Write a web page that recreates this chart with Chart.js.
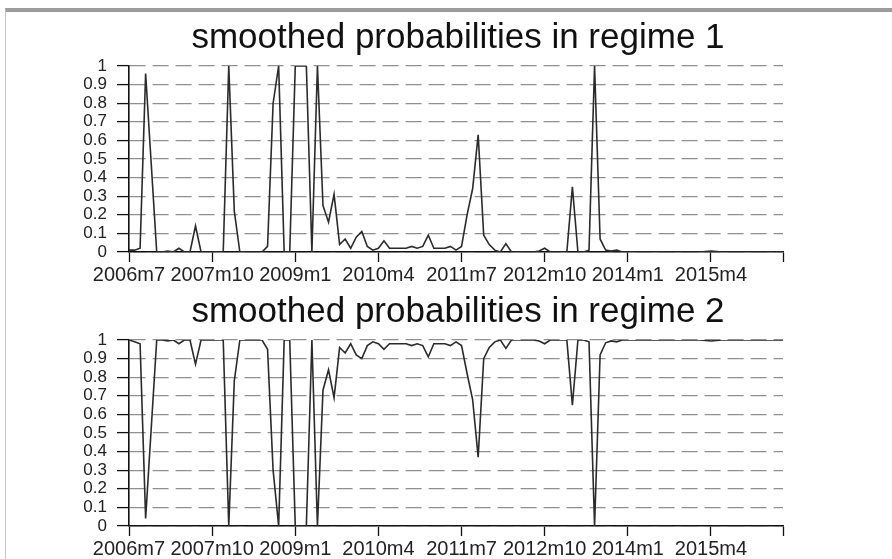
<!DOCTYPE html>
<html><head><meta charset="utf-8">
<script src="https://cdn.jsdelivr.net/npm/chart.js@4"></script>
<style>
html,body{margin:0;padding:0;background:#fff;width:892px;height:559px;overflow:hidden;}
#frame{position:absolute;left:5px;top:8px;width:887px;height:551px;border-top:4px solid #9c9c9c;border-left:1px solid #c4c4c4;box-sizing:border-box;}
canvas{position:absolute;left:0;}
#c1{top:0px;}
#c2{top:274px;}
</style></head><body>
<div id="frame"></div>
<canvas id="c1" width="892" height="290"></canvas>
<canvas id="c2" width="892" height="285"></canvas>
<script>
// ---- data ----
const startYear = 2006, startMonth = 7, nObs = 119;
const categories = [];
for (let k = 0; k < nObs; k++) {
  const m = startMonth - 1 + k;
  categories.push((startYear + Math.floor(m / 12)) + 'm' + (m % 12 + 1));
}
const xTickIndex = [0, 15, 30, 45, 60, 75, 90, 105, 118];
const xTickLabels = ['2006m7', '2007m10', '2009m1', '2010m4', '2011m7', '2012m10', '2014m1', '2015m4', ''];
const yTickValues = [0, 0.1, 0.2, 0.3, 0.4, 0.5, 0.6, 0.7, 0.8, 0.9, 1];
const yTickLabels = ['0', '0.1', '0.2', '0.3', '0.4', '0.5', '0.6', '0.7', '0.8', '0.9', '1'];
const titles = ['smoothed probabilities in regime 1', 'smoothed probabilities in regime 2'];

const regime1 = [
0.01,0.01,0.02,0.96,0.48,0,0,0.005,0,0.02,
0,0,0.14,0,0,0,0,0,1,0.22,
0,0,0,0,0,0.03,0.8,1,0,0,
1,1,1,0,1,0.25,0.16,0.31,0.04,0.07,
0.02,0.08,0.11,0.03,0.01,0.02,0.06,0.02,0.02,0.02,
0.02,0.03,0.02,0.03,0.09,0.02,0.02,0.02,0.03,0.01,
0.03,0.2,0.34,0.63,0.09,0.04,0.01,0,0.045,0,
0,0,0,0,0.005,0.02,0,0,0,0,
0.35,0,0,0.01,1,0.07,0.01,0.005,0.01,0,
0,0,0,0,0,0,0,0,0,0,
0,0,0,0,0.003,0.005,0.003,0,0,0,
0,0,0,0,0,0,0,0,0
];
const regime2 = [
1,0.99,0.98,0.04,0.52,1,1,0.995,1,0.98,
1,1,0.87,1,1,1,1,1,0,0.78,
1,1,1,1,1,0.95,0.3,0,1,1,
0,0,0,1,0,0.73,0.84,0.69,0.96,0.93,
0.98,0.92,0.9,0.97,0.99,0.98,0.95,0.98,0.98,0.98,
0.98,0.97,0.98,0.97,0.91,0.98,0.98,0.98,0.97,0.99,
0.97,0.82,0.68,0.37,0.9,0.96,0.99,1,0.955,1,
1,1,1,1,0.995,0.98,1,1,1,1,
0.65,1,1,0.99,0,0.92,0.985,0.995,0.99,1,
1,1,1,1,1,1,1,1,1,1,
1,1,1,1,0.997,0.995,0.997,1,1,1,
1,1,1,1,1,1,1,1,1
];

// ---- chart ----
const FONT = "'Liberation Sans', Arial, sans-serif";
function makeChart(id, title, values) {
  const canvas = document.getElementById(id);
  const H = canvas.height;
  return new Chart(canvas, {
    type: 'line',
    data: {
      datasets: [{
        label: title,
        data: values.map((v, i) => ({ x: i, y: v })),
        borderColor: '#2b2b2b',
        borderWidth: 1.6,
        pointRadius: 0,
        tension: 0,
        fill: false,
        yAxisID: 'y'
      }]
    },
    options: {
      responsive: false,
      animation: false,
      devicePixelRatio: 1,
      layout: { padding: { left: 24, right: 0, top: 0, bottom: 0 } },
      plugins: {
        legend: { display: false },
        tooltip: { enabled: false },
        title: {
          display: true,
          text: title,
          color: '#111',
          font: { family: FONT, size: 35, weight: 'normal' },
          padding: { top: 17, bottom: 7 }
        }
      },
      scales: {
        x: {
          type: 'linear',
          min: 0, max: nObs - 1,
          afterFit: (s) => { s.height = H - 252; },
          afterBuildTicks: (s) => { s.ticks = xTickIndex.map(v => ({ value: v })); },
          grid: { drawOnChartArea: false, drawTicks: true, tickLength: 10, tickColor: '#111', tickWidth: 1.3 },
          border: { display: true, color: '#111', width: 1.6 },
          ticks: {
            autoSkip: false, maxRotation: 0, padding: 1, color: '#222',
            font: { family: FONT, size: 20 },
            callback: (v) => { const k = xTickIndex.indexOf(v); return k >= 0 ? xTickLabels[k] : ''; }
          }
        },
        y: {
          type: 'linear',
          position: 'left',
          min: 0, max: 1,
          afterFit: (s) => { s.width = 105; },
          afterBuildTicks: (s) => { s.ticks = yTickValues.map(v => ({ value: v })); },
          grid: { color: '#8f8f8f', lineWidth: 1.2, drawTicks: true, tickLength: 12, tickColor: '#111', tickWidth: 1.3 },
          border: { display: true, color: '#111', width: 1.6, dash: [16, 7] },
          ticks: {
            autoSkip: false, padding: 10, color: '#222',
            font: { family: FONT, size: 17 },
            callback: (v) => { const k = yTickValues.indexOf(v); return k >= 0 ? yTickLabels[k] : ''; }
          }
        },
        yRight: {
          type: 'linear',
          position: 'right',
          min: 0, max: 1,
          afterFit: (s) => { s.width = 109; },
          grid: { display: false, drawTicks: false },
          border: { display: false },
          ticks: { display: false }
        }
      }
    }
  });
}
makeChart('c1', titles[0], regime1);
makeChart('c2', titles[1], regime2);
</script>
</body></html>
